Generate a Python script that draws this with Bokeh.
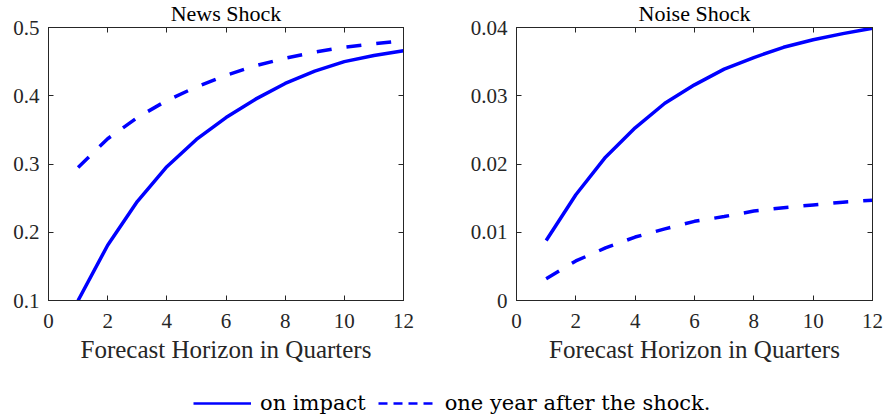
from bokeh.plotting import figure
from bokeh.models import Range1d, LinearAxis, FixedTicker, Legend, LegendItem, Title
from bokeh.layouts import column, row
from bokeh.embed import file_html
from bokeh.resources import INLINE

horizon = [1, 2, 3, 4, 5, 6, 7, 8, 9, 10, 11, 12]
news_impact = [0.100, 0.181, 0.245, 0.296, 0.336, 0.368, 0.395, 0.418, 0.436, 0.450, 0.459, 0.466]
news_year = [0.295, 0.337, 0.368, 0.393, 0.413, 0.430, 0.444, 0.455, 0.464, 0.471, 0.476, 0.481]
noise_impact = [0.0088, 0.0155, 0.0210, 0.0253, 0.0289, 0.0316, 0.0339, 0.0356, 0.0371, 0.0382, 0.0391, 0.0399]
noise_year = [0.0032, 0.0058, 0.0077, 0.0093, 0.0105, 0.0116, 0.0123, 0.0131, 0.0136, 0.0140, 0.0144, 0.0147]

x_ticks = [0, 2, 4, 6, 8, 10, 12]
news_ticks = [0.1, 0.2, 0.3, 0.4, 0.5]
news_tick_labels = ["0.1", "0.2", "0.3", "0.4", "0.5"]
noise_ticks = [0, 0.01, 0.02, 0.03, 0.04]
noise_tick_labels = ["0", "0.01", "0.02", "0.03", "0.04"]

titles = ["News Shock", "Noise Shock"]
x_label = "Forecast Horizon in Quarters"
legend_labels = ["on impact", "one year after the shock."]

FONT = "Liberation Serif"
LFONT = "DejaVu Serif"
AX = "#262626"
BLUE = "#0000FF"


def panel(title, y0, y1, yticks, ylabels, imp, yr, border_left, border_right):
    p = figure(width=443, height=379, output_backend="svg", toolbar_location=None,
               x_range=Range1d(0, 12), y_range=Range1d(y0, y1),
               x_axis_location=None, y_axis_location=None,
               min_border_left=border_left, min_border_right=border_right,
               min_border_top=0, min_border_bottom=76)
    p.grid.visible = False
    p.outline_line_color = AX
    p.outline_line_width = 1
    p.background_fill_color = "white"

    xb = LinearAxis(ticker=FixedTicker(ticks=x_ticks), axis_label=x_label)
    yl = LinearAxis(ticker=FixedTicker(ticks=yticks),
                    major_label_overrides={t: l for t, l in zip(yticks, ylabels)})
    xt = LinearAxis(ticker=FixedTicker(ticks=x_ticks))
    yr_ax = LinearAxis(ticker=FixedTicker(ticks=yticks))
    for ax in (xb, yl, xt, yr_ax):
        ax.axis_line_color = AX
        ax.major_tick_line_color = AX
        ax.major_tick_in = 5
        ax.major_tick_out = 0
        ax.minor_tick_line_color = None
        ax.major_label_text_font = FONT
        ax.major_label_text_color = AX
        ax.major_label_text_font_size = "21px"
    # top and right axes: inward ticks only, no labels drawn
    for ax in (xt, yr_ax):
        ax.major_label_text_font_size = "0px"
        ax.major_label_text_color = None
        ax.major_label_standoff = 0
    xb.major_label_standoff = 13
    yl.major_label_standoff = 9
    xb.axis_label_text_font = FONT
    xb.axis_label_text_font_style = "normal"
    xb.axis_label_text_font_size = "25px"
    xb.axis_label_text_color = AX
    xb.axis_label_standoff = 5
    p.add_layout(xb, "below")
    p.add_layout(yl, "left")
    p.add_layout(xt, "above")
    p.add_layout(yr_ax, "right")

    t = Title(text=title, align="center", text_font=FONT, text_font_size="22px",
              text_font_style="normal", text_color="black", standoff=3)
    p.add_layout(t, "above")

    p.line(horizon, imp, line_color=BLUE, line_width=3.5)
    p.line(horizon, yr, line_color=BLUE, line_width=3.5, line_dash="15 15")
    return p


p1 = panel(titles[0], 0.1, 0.5, news_ticks, news_tick_labels, news_impact, news_year, 48, 40)
p2 = panel(titles[1], 0.0, 0.04, noise_ticks, noise_tick_labels, noise_impact, noise_year, 73, 14)

# legend strip: the renderers reuse the series but sit outside this strip's range
leg = figure(width=886, height=38, output_backend="svg", toolbar_location=None,
             x_range=Range1d(0, 1), y_range=Range1d(-2, -1),
             x_axis_type=None, y_axis_type=None,
             min_border=0)
leg.outline_line_color = None
leg.grid.visible = False
r1 = leg.line(horizon, news_impact, line_color=BLUE, line_width=2.5)
r2 = leg.line(horizon, news_year, line_color=BLUE, line_width=2.5, line_dash="9 6")
legend = Legend(items=[LegendItem(label=legend_labels[0], renderers=[r1]),
                       LegendItem(label=legend_labels[1], renderers=[r2])],
                orientation="horizontal", location=(193, -1),
                glyph_width=58, glyph_height=20, label_height=20,
                label_standoff=9, spacing=12, padding=0, margin=0,
                label_text_font=LFONT, label_text_font_size="21px",
                label_text_baseline="alphabetic",
                label_text_color="black",
                background_fill_alpha=0, border_line_alpha=0)
leg.add_layout(legend, "center")

layout = column(row(p1, p2, margin=(-3, 0, 0, 0)), leg)

open("out.html", "w").write(file_html(layout, INLINE))
